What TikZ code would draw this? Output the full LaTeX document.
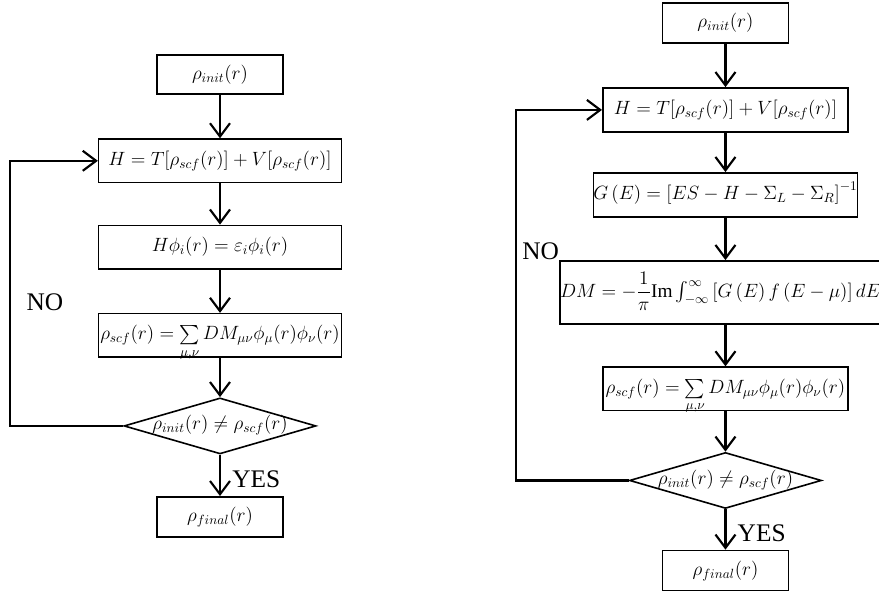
\documentclass[tikz,border=0pt]{standalone}
\usepackage{amsmath}
\usepackage{fontspec}
\setmainfont{Liberation Serif}
\usetikzlibrary{calc,positioning,arrows.meta,shapes.geometric}
\tikzstyle{box} = [rectangle, draw=black, line width=1.2pt, inner sep=0pt, text height=10pt, text depth=3pt, text centered, font=\fontsize{14.5}{17}\selectfont]
\tikzstyle{check} = [diamond, draw=black, line width=1.2pt, aspect=3.4, inner xsep=-20pt, inner ysep=0pt, text height=8pt, text depth=2pt, minimum width=144pt, minimum height=42pt, font=\fontsize{14.5}{17}\selectfont]
\tikzstyle{arrow} = [line width=1.6pt, -{Straight Barb[length=10pt,width=15pt,line width=1.6pt]}]
\tikzstyle{word} = [inner sep=0pt, font=\fontsize{19}{22}\selectfont]

\begin{document}
\begin{tikzpicture}
\tikzset{%
	small/.style = {box, minimum width=94.5pt, minimum height=29.5pt},
	wide/.style = {box, minimum width=182pt, minimum height=32.5pt}
}
\useasboundingbox (0,0) rectangle (659.25pt,-446.25pt);

% left loop
\node(l1) [small] at (165pt,-55.9pt) {$\rho_{init}(r)$};
\node(l2) [wide, below=32.5pt of l1] {$H=T[\rho_{scf}(r)]+V[\rho_{scf}(r)]$};
\node(l3) [wide, below=31pt of l2] {$H\phi_i(r)=\varepsilon_i\phi_i(r)$};
\node(l4) [wide, below=32.5pt of l3] {$\rho_{scf}(r)=\sum\limits_{\mu,\nu}DM_{\mu\nu}\phi_\mu(r)\phi_\nu(r)$};
\node(l5) [check, below=29.5pt of l4] {$\rho_{init}(r)\neq\rho_{scf}(r)$};
\node(l6) [small, minimum height=30pt, below=31pt of l5] {$\rho_{final}(r)$};
\coordinate (lx) at (7.5pt,0);
\node(ln) [word] at (33.75pt,-226.5pt) {NO};
\node(ly) [word, anchor=west, xshift=9pt] at ($(l5.south)!0.6!(l6.north)$) {YES};

% right loop
\node(r1) [small, minimum height=30pt] at (544.1pt,-17.25pt) {$\rho_{init}(r)$};
\node(r2) [wide, minimum width=184pt, minimum height=33pt, below=32.5pt of r1] {$H=T[\rho_{scf}(r)]+V[\rho_{scf}(r)]$};
\node(r3) [wide, minimum width=184pt, minimum height=33pt, below=29.5pt of r2] {$G\left(E\right)=\left[ES-H-\Sigma_L-\Sigma_R\right]^{-1}$};
\node(r4) [box, minimum width=238pt, minimum height=47.5pt, below=31.8pt of r3, xshift=-3.8pt] {$DM=-\dfrac{1}{\pi}\mathrm{Im}\int_{-\infty}^{\infty}\left[G\left(E\right)f\left(E-\mu\right)\right]dE$};
\node(r5) [wide, minimum width=184pt, below=31pt of r4.south -| r3.south] {$\rho_{scf}(r)=\sum\limits_{\mu,\nu}DM_{\mu\nu}\phi_\mu(r)\phi_\nu(r)$};
\node(r6) [check, below=30.3pt of r5] {$\rho_{init}(r)\neq\rho_{scf}(r)$};
\node(r7) [small, minimum height=30pt, below=30.3pt of r6] {$\rho_{final}(r)$};
\coordinate (rx) at (387pt,0);
\node(rn) [word, anchor=south east] at (r4.north west) {NO};
\node(ry) [word, anchor=west, xshift=9pt] at ($(r6.south)!0.6!(r7.north)$) {YES};

\draw [arrow] (l1) -- (l2);
\draw [arrow] (l2) -- (l3);
\draw [arrow] (l3) -- (l4);
\draw [arrow] (l4) -- (l5);
\draw [arrow] (l5) -- (l6);
\draw [arrow] (l5.west) -- (l5.west -| lx) |- (l2.west);

\draw [arrow] (r1) -- (r2);
\draw [arrow] (r2) -- (r3);
\draw [arrow] (r3) -- (r3.south |- r4.north);
\draw [arrow] (r4.south -| r3.south) -- (r5);
\draw [arrow] (r5) -- (r6);
\draw [arrow] (r6) -- (r7);
\draw [arrow] (r6.west) -- (r6.west -| rx) |- (r2.west);
\end{tikzpicture}
\end{document}
